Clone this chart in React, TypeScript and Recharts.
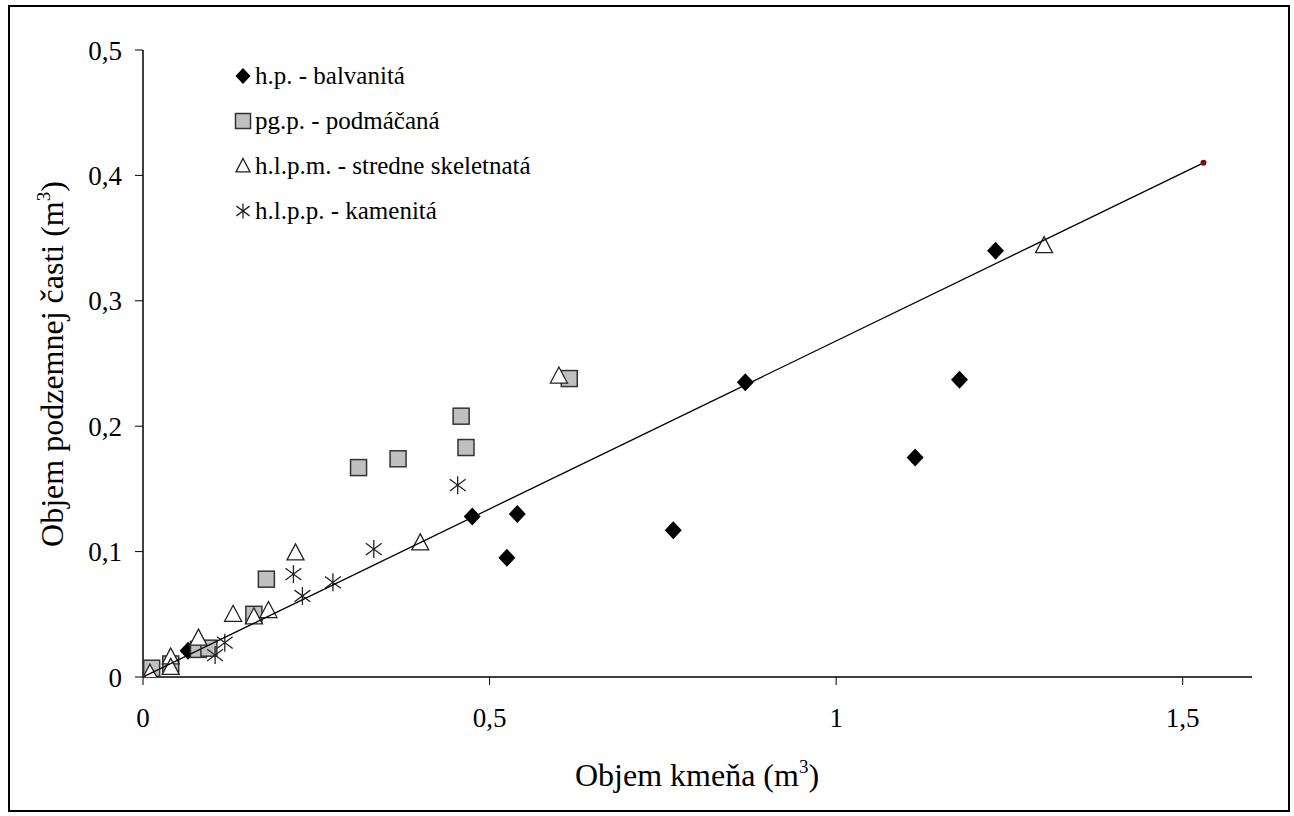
import { ScatterChart, Scatter, XAxis, YAxis, Label } from "recharts"

const FONT = "'Liberation Serif', 'Times New Roman', Times, 'DejaVu Serif', serif"

const xTicks = [0, 0.5, 1, 1.5]
const yTicks = [0, 0.1, 0.2, 0.3, 0.4, 0.5]

// h.p. - balvanitá
const hpData = [
  { x: 0.065, y: 0.021 },
  { x: 0.475, y: 0.128 },
  { x: 0.54, y: 0.13 },
  { x: 0.525, y: 0.095 },
  { x: 0.765, y: 0.117 },
  { x: 0.869, y: 0.235 },
  { x: 1.114, y: 0.175 },
  { x: 1.178, y: 0.237 },
  { x: 1.23, y: 0.34 },
]

// pg.p. - podmáčaná
const pgpData = [
  { x: 0.0, y: 0.0015 },
  { x: 0.0125, y: 0.007 },
  { x: 0.04, y: 0.0104 },
  { x: 0.08, y: 0.022 },
  { x: 0.095, y: 0.023 },
  { x: 0.16, y: 0.05 },
  { x: 0.178, y: 0.078 },
  { x: 0.311, y: 0.167 },
  { x: 0.368, y: 0.174 },
  { x: 0.459, y: 0.208 },
  { x: 0.466, y: 0.183 },
  { x: 0.615, y: 0.238 },
]

// h.l.p.m. - stredne skeletnatá
const hlpmData = [
  { x: 0.01, y: 0.003 },
  { x: 0.04, y: 0.016 },
  { x: 0.04, y: 0.0077 },
  { x: 0.08, y: 0.031 },
  { x: 0.13, y: 0.05 },
  { x: 0.16, y: 0.048 },
  { x: 0.181, y: 0.053 },
  { x: 0.22, y: 0.099 },
  { x: 0.4, y: 0.107 },
  { x: 0.6, y: 0.24 },
  { x: 1.3, y: 0.344 },
]

// h.l.p.p. - kamenitá
const hlppData = [
  { x: 0.104, y: 0.0175 },
  { x: 0.118, y: 0.0274 },
  { x: 0.217, y: 0.082 },
  { x: 0.23, y: 0.0646 },
  { x: 0.274, y: 0.0755 },
  { x: 0.333, y: 0.102 },
  { x: 0.454, y: 0.153 },
]

// trend line end points
const trendData = [
  { x: 0, y: 0 },
  { x: 1.53, y: 0.41 },
]

const legendNames = [
  "h.p. - balvanitá",
  "pg.p. - podmáčaná",
  "h.l.p.m. - stredne skeletnatá",
  "h.l.p.p. - kamenitá",
]

const fmt = (v: number) => String(v).replace(".", ",")

function Diamond({ cx, cy, s = 9 }: any) {
  return (
    <polygon
      points={`${cx},${cy - s} ${cx + s - 0.5},${cy} ${cx},${cy + s} ${cx - s + 0.5},${cy}`}
      fill="#000"
    />
  )
}

function Square({ cx, cy, s = 8 }: any) {
  return (
    <rect x={cx - s} y={cy - s} width={s * 2} height={s * 2} fill="#c0c0c0" stroke="#333" strokeWidth={1.5} />
  )
}

function Triangle({ cx, cy, s = 9 }: any) {
  return (
    <polygon
      points={`${cx},${cy - s} ${cx + s - 0.5},${cy + s * 0.78} ${cx - s + 0.5},${cy + s * 0.78}`}
      fill="#fff"
      stroke="#222"
      strokeWidth={1.3}
    />
  )
}

function Star({ cx, cy, s = 9 }: any) {
  return (
    <g stroke="#222" strokeWidth={1.3}>
      <line x1={cx} y1={cy - s} x2={cx} y2={cy + s} />
      <line x1={cx - s * 0.88} y1={cy - s * 0.65} x2={cx + s * 0.88} y2={cy + s * 0.65} />
      <line x1={cx - s * 0.88} y1={cy + s * 0.65} x2={cx + s * 0.88} y2={cy - s * 0.65} />
    </g>
  )
}

function TrendDot({ cx, cy }: any) {
  return <circle cx={cx} cy={cy} r={3} fill="#7b1010" />
}

const legendIcons = [Diamond, Square, Triangle, Star]

function LegendBox() {
  return (
    <div
      style={{
        position: "absolute",
        left: 226,
        top: 48,
        fontFamily: FONT,
        fontSize: 25,
        color: "#000",
        whiteSpace: "nowrap",
      }}
    >
      {legendNames.map((name, i) => {
        const Icon = legendIcons[i]
        return (
          <div key={name} style={{ display: "flex", alignItems: "center", height: 45 }}>
            <svg width={18} height={20} style={{ marginRight: 3 }}>
              <Icon cx={9} cy={10} s={i === 0 ? 8 : 7.5} />
            </svg>
            <span style={{ lineHeight: "26px" }}>{name}</span>
          </div>
        )
      })}
    </div>
  )
}

export default function App() {
  return (
    <div style={{ position: "absolute", left: 8, top: 5, width: 1282, height: 807 }}>
      <div
        style={{
          position: "absolute",
          left: 0,
          top: 0,
          width: 1282,
          height: 807,
          border: "2px solid #000",
          boxSizing: "border-box",
        }}
      />
      <div style={{ position: "absolute", left: 0, top: 0 }}>
        <ScatterChart width={1280} height={806} margin={{ top: 45, right: 36, left: 0, bottom: 0 }}>
          <XAxis
            type="number"
            dataKey="x"
            domain={[0, 1.6]}
            ticks={xTicks}
            tickFormatter={fmt}
            tickSize={8}
            tickMargin={23}
            height={134}
            allowDataOverflow
            axisLine={{ stroke: "#000", strokeWidth: 1.5 }}
            tickLine={{ stroke: "#000" }}
            tick={{ fontSize: 27, fill: "#000", fontFamily: FONT }}
          >
            <Label
              content={() => (
                <text x={689} y={781} textAnchor="middle" fontSize={32} fontFamily={FONT} fill="#000">
                  Objem kmeňa (m
                  <tspan dy={-13} fontSize={19}>3</tspan>
                  <tspan dy={13}>)</tspan>
                </text>
              )}
            />
          </XAxis>
          <YAxis
            type="number"
            dataKey="y"
            domain={[0, 0.5]}
            ticks={yTicks}
            tickFormatter={fmt}
            tickSize={8}
            tickMargin={13}
            width={135}
            allowDataOverflow
            axisLine={{ stroke: "#000", strokeWidth: 1.5 }}
            tickLine={{ stroke: "#000" }}
            tick={{ fontSize: 27, fill: "#000", fontFamily: FONT }}
          >
            <Label
              content={() => (
                <text
                  transform="translate(55,359) rotate(-90)"
                  textAnchor="middle"
                  fontSize={32}
                  fontFamily={FONT}
                  fill="#000"
                >
                  Objem podzemnej časti (m
                  <tspan dy={-13} fontSize={19}>3</tspan>
                  <tspan dy={13}>)</tspan>
                </text>
              )}
            />
          </YAxis>
          <Scatter name={legendNames[0]} data={hpData} shape={Diamond} isAnimationActive={false} />
          <Scatter name={legendNames[1]} data={pgpData} shape={Square} isAnimationActive={false} />
          <Scatter name={legendNames[2]} data={hlpmData} shape={Triangle} isAnimationActive={false} />
          <Scatter name={legendNames[3]} data={hlppData} shape={Star} isAnimationActive={false} />
          <Scatter
            name="trend"
            data={trendData}
            line={{ stroke: "#000", strokeWidth: 1.3 }}
            shape={TrendDot}
            legendType="none"
            isAnimationActive={false}
          />
        </ScatterChart>
      </div>
      <LegendBox />
    </div>
  )
}
